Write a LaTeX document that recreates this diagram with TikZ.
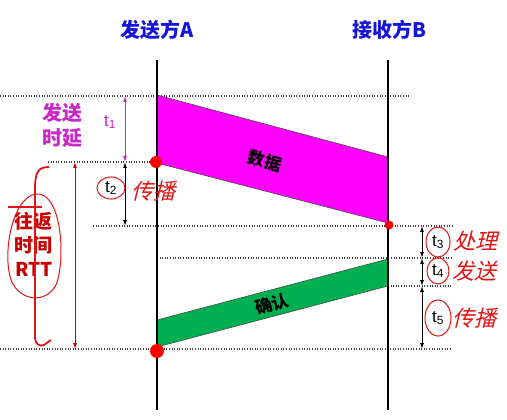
\documentclass[tikz,border=0pt]{standalone}
\usepackage{fontspec}
\newfontfamily\cjk{Noto Sans CJK SC}
\newfontfamily\arialf{Liberation Sans}
\usetikzlibrary{arrows.meta}
\definecolor{hdrblue}{RGB}{20,20,220}
\definecolor{mag}{RGB}{255,0,255}
\definecolor{magtxt}{RGB}{200,40,200}
\definecolor{grn}{RGB}{0,176,80}
\definecolor{rttred}{RGB}{200,0,0}
\definecolor{hand}{RGB}{225,20,20}
\begin{document}
\begin{tikzpicture}[x=1pt,y=-1pt,
  hdr/.style={font=\cjk\bfseries\fontsize{20}{24}\selectfont,text=hdrblue},
  dotln/.style={line width=1.1pt,dash pattern=on 1pt off 1.6pt,black!75},
  tl/.style={line width=1.2pt,black},
  dbl/.style={line width=1pt,{Latex[length=6pt,width=4pt]}-{Latex[length=6pt,width=4pt]}},
  pkt/.style={draw=black!70,line width=0.6pt},
  pkttxt/.style={font=\cjk\bfseries\fontsize{17}{20}\selectfont},
  handtxt/.style={font=\cjk\fontsize{22}{24}\selectfont,text=hand,xslant=0.25},
  tsym/.style={font=\arialf\fontsize{17}{19}\selectfont},
  ring/.style={draw=hand,line width=1pt},
  dot/.style={circle,fill=red,inner sep=0pt}]
\useasboundingbox (0,0) rectangle (507,420);
\fill[white] (0,0) rectangle (507,420);
% headers
\node[hdr] (hA) at (157,30) {发送方A};
\node[hdr] (hB) at (389,30) {接收方B};
% coordinates of time lines
\coordinate (Atop) at (157,60);
\coordinate (Abot) at (157,410);
\coordinate (Btop) at (388,60);
\coordinate (Bbot) at (388,410);
% dotted levels
\coordinate (d1l) at (0,96);   \coordinate (d1r) at (410,96);
\coordinate (d2l) at (48,162); \coordinate (d2r) at (157,162);
\coordinate (d3l) at (93,226); \coordinate (d3r) at (452,226);
\coordinate (d4l) at (157,258);\coordinate (d4r) at (452,258);
\coordinate (d5l) at (388,286);\coordinate (d5r) at (452,286);
\coordinate (d6l) at (0,349);  \coordinate (d6r) at (452,349);
\draw[dotln] (d1l) -- (d1r);
\draw[dotln] (d2l) -- (d2r);
\draw[dotln] (d3l) -- (d3r);
\draw[dotln] (d4l) -- (d4r);
\draw[dotln] (d5l) -- (d5r);
\draw[dotln] (d6l) -- (d6r);
% packets
\coordinate (m1) at (157,95); \coordinate (m2) at (388,157);
\coordinate (m3) at (388,223); \coordinate (m4) at (157,163);
\filldraw[pkt,fill=mag] (m1) -- (m2) -- (m3) -- (m4) -- cycle;
\node[pkttxt,rotate=-15] (data) at (265,161) {数据};
\coordinate (g1) at (157,320); \coordinate (g2) at (388,259);
\coordinate (g3) at (388,286); \coordinate (g4) at (157,347);
\filldraw[pkt,fill=grn] (g1) -- (g2) -- (g3) -- (g4) -- cycle;
\node[pkttxt,rotate=15] (ack) at (272,304) {确认};
% time lines
\draw[tl] (Atop) -- (Abot);
\draw[tl] (Btop) -- (Bbot);
% red dots
\node[dot,minimum size=12pt] (r1) at (156,162) {};
\node[dot,minimum size=9pt] (r2) at (389,225) {};
\node[dot,minimum size=14pt] (r3) at (157,351) {};
% t1
\coordinate (t1a) at (125,96); \coordinate (t1b) at (125,162);
\draw[dbl,magtxt] (t1a) -- (t1b);
\node[tsym,text=magtxt] (t1) at (110,122) {t\textsubscript{1}};
\node[font=\cjk\bfseries\fontsize{20}{25}\selectfont,text=magtxt,align=center] (sd) at (62,125) {发送\\时延};
% t2
\coordinate (t2a) at (125,162); \coordinate (t2b) at (125,226);
\draw[dbl,black] (t2a) -- (t2b);
\node[tsym] (t2) at (111,188) {t\textsubscript{2}};
\draw[ring] (t2) ellipse (14 and 11);
\node[handtxt] (cb1) at (156,191) {传播};
% RTT
\coordinate (ra) at (75,162); \coordinate (rb) at (75,349);
\draw[dbl,rttred] (ra) -- (rb);
\node[font=\cjk\bfseries\fontsize{19}{24}\selectfont,text=rttred,align=center] (rtt) at (34,244) {往返\\时间\\RTT};
\draw[hand,line width=1pt] (35,194) .. controls (10,200) and (2,260) .. (12,282)
  .. controls (20,300) and (45,305) .. (56,285) .. controls (66,260) and (62,190) .. (35,194);
\draw[hand,line width=1.8pt] (49,167) .. controls (38,167) and (35,172) .. (35,190)
  -- (35,338) .. controls (35,344) and (40,347) .. (44,345) -- (51,340);
\draw[hand,line width=1.1pt] (8,207) -- (42,207);
% right side
\coordinate (t3a) at (422,226); \coordinate (t3b) at (422,258);
\coordinate (t4b) at (422,286); \coordinate (t5b) at (422,349);
\draw[dbl,black] (t3a) -- (t3b);
\draw[dbl,black] (t3b) -- (t4b);
\draw[dbl,black] (t4b) -- (t5b);
\node[tsym] (t3) at (438,242) {t\textsubscript{3}};
\draw[ring] (t3) ellipse (12 and 15);
\node[tsym] (t4) at (438,271) {t\textsubscript{4}};
\draw[ring] (t4) ellipse (11 and 13);
\node[tsym] (t5) at (438,318) {t\textsubscript{5}};
\draw[ring] (t5) ellipse (13 and 18);
\node[handtxt] (cl) at (478,241) {处理};
\node[handtxt] (fs) at (477,271) {发送};
\node[handtxt] (cb2) at (477,318) {传播};
\end{tikzpicture}
\end{document}
